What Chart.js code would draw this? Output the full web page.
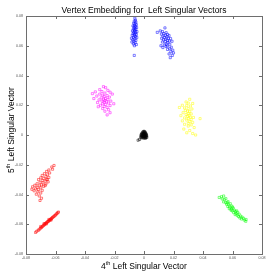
<!DOCTYPE html>
<html><head><meta charset="utf-8">
<script src="https://cdn.jsdelivr.net/npm/chart.js@4"></script>
<style>html,body{margin:0;padding:0;background:#fff;}canvas{display:block;}</style>
</head><body>
<canvas id="c" width="279" height="279"></canvas>
<script>
const chartTitle = "Vertex Embedding for  Left Singular Vectors";
const xTitle = ["4", "th", " Left Singular Vector"];
const yTitle = ["5", "th", " Left Singular Vector"];
const xTicks = [-0.08, -0.06, -0.04, -0.02, 0, 0.02, 0.04, 0.06, 0.08];
const yTicks = [-0.08, -0.06, -0.04, -0.02, 0, 0.02, 0.04, 0.06, 0.08];
const tickText = ["-0.08", "-0.06", "-0.04", "-0.02", "0", "0.02", "0.04", "0.06", "0.08"];

const blueA = [[-0.0062,0.0785],[-0.0058,0.0772],[-0.0066,0.0765],[-0.0055,0.0760],[-0.0070,0.0752],[-0.0060,0.0748],[-0.0052,0.0742],[-0.0065,0.0738],[-0.0075,0.0733],[-0.0058,0.0730],[-0.0068,0.0725],[-0.0050,0.0722],[-0.0062,0.0718],[-0.0072,0.0712],[-0.0056,0.0710],[-0.0064,0.0705],[-0.0078,0.0700],[-0.0060,0.0698],[-0.0048,0.0695],[-0.0069,0.0690],[-0.0057,0.0686],[-0.0074,0.0682],[-0.0063,0.0678],[-0.0052,0.0675],[-0.0080,0.0670],[-0.0066,0.0667],[-0.0058,0.0662],[-0.0071,0.0657],[-0.0049,0.0655],[-0.0085,0.0650],[-0.0062,0.0646],[-0.0076,0.0640],[-0.0055,0.0636],[-0.0068,0.0630],[-0.0082,0.0625],[-0.0060,0.0620],[-0.0072,0.0612],[-0.0052,0.0608],[-0.0065,0.0600],[-0.0066,0.0535]];
const blueB = [[0.0142,0.0720],[0.0090,0.0690],[0.0110,0.0700],[0.0125,0.0695],[0.0150,0.0688],[0.0135,0.0682],[0.0118,0.0678],[0.0160,0.0676],[0.0145,0.0670],[0.0128,0.0665],[0.0170,0.0668],[0.0155,0.0660],[0.0138,0.0655],[0.0120,0.0650],[0.0165,0.0650],[0.0148,0.0645],[0.0180,0.0648],[0.0132,0.0640],[0.0158,0.0636],[0.0172,0.0632],[0.0145,0.0628],[0.0125,0.0625],[0.0190,0.0630],[0.0162,0.0620],[0.0150,0.0612],[0.0175,0.0610],[0.0138,0.0605],[0.0115,0.0600],[0.0160,0.0598],[0.0185,0.0590],[0.0128,0.0588],[0.0175,0.0580],[0.0195,0.0570],[0.0182,0.0560],[0.0200,0.0552],[0.0170,0.0545],[0.0192,0.0535],[0.0178,0.0520],[0.0160,0.0575],[0.0150,0.0595]];
const magenta = [[-0.0275,0.0325],[-0.0260,0.0318],[-0.0300,0.0305],[-0.0245,0.0300],[-0.0330,0.0290],[-0.0285,0.0292],[-0.0230,0.0288],[-0.0265,0.0282],[-0.0350,0.0278],[-0.0300,0.0275],[-0.0215,0.0275],[-0.0280,0.0268],[-0.0250,0.0265],[-0.0320,0.0262],[-0.0270,0.0258],[-0.0235,0.0255],[-0.0290,0.0250],[-0.0260,0.0246],[-0.0340,0.0245],[-0.0275,0.0240],[-0.0245,0.0238],[-0.0305,0.0236],[-0.0265,0.0232],[-0.0285,0.0228],[-0.0225,0.0228],[-0.0255,0.0224],[-0.0270,0.0220],[-0.0315,0.0218],[-0.0240,0.0215],[-0.0280,0.0210],[-0.0260,0.0205],[-0.0295,0.0200],[-0.0230,0.0198],[-0.0270,0.0192],[-0.0250,0.0185],[-0.0280,0.0178],[-0.0240,0.0170],[-0.0265,0.0160],[-0.0230,0.0150],[-0.0250,0.0135],[-0.0310,0.0190],[-0.0205,0.0210]];
const black = [[0.0000,0.0025],[-0.0005,0.0022],[0.0005,0.0022],[-0.0008,0.0018],[0.0002,0.0018],[0.0009,0.0016],[-0.0012,0.0013],[-0.0003,0.0013],[0.0006,0.0012],[0.0012,0.0010],[-0.0015,0.0008],[-0.0006,0.0008],[0.0003,0.0007],[0.0010,0.0005],[0.0016,0.0004],[-0.0018,0.0003],[-0.0009,0.0003],[0.0000,0.0002],[0.0007,0.0000],[0.0014,-0.0001],[-0.0020,-0.0002],[-0.0012,-0.0003],[-0.0004,-0.0003],[0.0004,-0.0005],[0.0011,-0.0006],[0.0018,-0.0005],[-0.0017,-0.0008],[-0.0008,-0.0009],[0.0000,-0.0010],[0.0008,-0.0011],[0.0015,-0.0012],[-0.0022,-0.0013],[-0.0013,-0.0014],[-0.0004,-0.0015],[0.0005,-0.0016],[0.0012,-0.0017],[0.0019,-0.0016],[-0.0018,-0.0019],[-0.0008,-0.0020],[0.0002,-0.0021],[0.0010,-0.0022],[-0.0040,-0.0035],[-0.0030,-0.0030]];
const yellow = [[0.0310,0.0240],[0.0285,0.0222],[0.0300,0.0215],[0.0330,0.0212],[0.0260,0.0200],[0.0290,0.0198],[0.0315,0.0195],[0.0240,0.0185],[0.0275,0.0182],[0.0300,0.0178],[0.0325,0.0175],[0.0280,0.0165],[0.0295,0.0160],[0.0310,0.0158],[0.0265,0.0150],[0.0300,0.0145],[0.0320,0.0142],[0.0285,0.0138],[0.0305,0.0132],[0.0250,0.0130],[0.0295,0.0125],[0.0315,0.0120],[0.0335,0.0118],[0.0275,0.0115],[0.0300,0.0110],[0.0380,0.0110],[0.0320,0.0105],[0.0290,0.0100],[0.0260,0.0095],[0.0310,0.0090],[0.0330,0.0085],[0.0300,0.0078],[0.0275,0.0072],[0.0320,0.0068],[0.0300,0.0060],[0.0340,0.0050],[0.0270,0.0040],[0.0310,0.0030],[0.0330,0.0010],[0.0350,0.0000],[0.0290,0.0015]];
const green = [[0.0510,-0.0420],[0.0525,-0.0415],[0.0540,-0.0410],[0.0530,-0.0430],[0.0545,-0.0435],[0.0555,-0.0428],[0.0540,-0.0450],[0.0555,-0.0455],[0.0570,-0.0448],[0.0560,-0.0465],[0.0575,-0.0470],[0.0585,-0.0462],[0.0568,-0.0480],[0.0582,-0.0485],[0.0595,-0.0478],[0.0578,-0.0495],[0.0592,-0.0498],[0.0605,-0.0492],[0.0598,-0.0510],[0.0612,-0.0505],[0.0620,-0.0515],[0.0608,-0.0522],[0.0625,-0.0528],[0.0635,-0.0520],[0.0618,-0.0535],[0.0632,-0.0540],[0.0645,-0.0532],[0.0640,-0.0548],[0.0655,-0.0545],[0.0650,-0.0558],[0.0665,-0.0552],[0.0662,-0.0565],[0.0675,-0.0560],[0.0680,-0.0572],[0.0692,-0.0568],[0.0690,-0.0580],[0.0600,-0.0485],[0.0590,-0.0505],[0.0628,-0.0510],[0.0565,-0.0455]];
const redA = [[-0.0610,-0.0205],[-0.0625,-0.0215],[-0.0645,-0.0235],[-0.0660,-0.0245],[-0.0640,-0.0255],[-0.0675,-0.0260],[-0.0655,-0.0268],[-0.0690,-0.0272],[-0.0665,-0.0280],[-0.0645,-0.0285],[-0.0700,-0.0288],[-0.0680,-0.0292],[-0.0660,-0.0298],[-0.0715,-0.0300],[-0.0690,-0.0305],[-0.0670,-0.0310],[-0.0650,-0.0315],[-0.0705,-0.0318],[-0.0685,-0.0322],[-0.0725,-0.0328],[-0.0665,-0.0330],[-0.0695,-0.0335],[-0.0740,-0.0338],[-0.0710,-0.0342],[-0.0680,-0.0345],[-0.0755,-0.0348],[-0.0725,-0.0352],[-0.0700,-0.0355],[-0.0735,-0.0362],[-0.0715,-0.0368],[-0.0690,-0.0372],[-0.0745,-0.0375],[-0.0720,-0.0382],[-0.0700,-0.0390],[-0.0730,-0.0398],[-0.0710,-0.0410],[-0.0695,-0.0425],[-0.0670,-0.0340],[-0.0760,-0.0365],[-0.0705,-0.0440],[-0.0620,-0.0230],[-0.0655,-0.0300]];
const redB = [[-0.0735,-0.0655],[-0.0728,-0.0648],[-0.0718,-0.0640],[-0.0712,-0.0638],[-0.0705,-0.0630],[-0.0700,-0.0624],[-0.0695,-0.0622],[-0.0690,-0.0615],[-0.0685,-0.0612],[-0.0680,-0.0608],[-0.0676,-0.0602],[-0.0672,-0.0600],[-0.0668,-0.0595],[-0.0664,-0.0592],[-0.0660,-0.0590],[-0.0656,-0.0585],[-0.0652,-0.0582],[-0.0648,-0.0580],[-0.0644,-0.0575],[-0.0640,-0.0572],[-0.0636,-0.0570],[-0.0632,-0.0566],[-0.0628,-0.0562],[-0.0624,-0.0558],[-0.0620,-0.0555],[-0.0615,-0.0550],[-0.0610,-0.0547],[-0.0605,-0.0542],[-0.0600,-0.0538],[-0.0595,-0.0532],[-0.0590,-0.0528],[-0.0585,-0.0522],[-0.0580,-0.0518],[-0.0678,-0.0596],[-0.0662,-0.0598],[-0.0645,-0.0568],[-0.0630,-0.0572],[-0.0700,-0.0615]];

const groups = [
  {pts: blueA, color: "#0000ff"},
  {pts: blueB, color: "#0000ff"},
  {pts: magenta, color: "#ff00ff"},
  {pts: black, color: "#000000"},
  {pts: yellow, color: "#ffff00"},
  {pts: green, color: "#00ff00"},
  {pts: redA, color: "#ff0000"},
  {pts: redB, color: "#ff0000"}
];

const datasets = groups.map(g => ({
  data: g.pts.map(p => ({x: p[0], y: p[1]})),
  borderColor: g.color,
  backgroundColor: "rgba(0,0,0,0)",
  pointStyle: "rect",
  pointRadius: 1.5,
  borderWidth: 0.5
}));

const FONT = "'Liberation Sans', Arial, Helvetica, sans-serif";

const framePlugin = {
  id: "frame",
  afterDraw(chart) {
    const ctx = chart.ctx;
    const a = chart.chartArea;
    const xs = chart.scales.x, ys = chart.scales.y;
    ctx.save();
    ctx.strokeStyle = "#6e6e6e";
    ctx.lineWidth = 1;
    ctx.strokeRect(Math.round(a.left) + 0.5, Math.round(a.top) + 0.5,
                   Math.round(a.right - a.left), Math.round(a.bottom - a.top));
    const tl = 3;
    ctx.beginPath();
    xTicks.forEach(v => {
      const px = Math.round(xs.getPixelForValue(v)) + 0.5;
      ctx.moveTo(px, a.bottom); ctx.lineTo(px, a.bottom - tl);
      ctx.moveTo(px, a.top); ctx.lineTo(px, a.top + tl);
    });
    yTicks.forEach(v => {
      const py = Math.round(ys.getPixelForValue(v)) + 0.5;
      ctx.moveTo(a.left, py); ctx.lineTo(a.left + tl, py);
      ctx.moveTo(a.right, py); ctx.lineTo(a.right - tl, py);
    });
    ctx.stroke();
    ctx.fillStyle = "#555";
    ctx.font = "3.6px " + FONT;
    ctx.textAlign = "center"; ctx.textBaseline = "top";
    xTicks.forEach((v, i) => ctx.fillText(tickText[i], xs.getPixelForValue(v), a.bottom + 2));
    ctx.textAlign = "right"; ctx.textBaseline = "middle";
    yTicks.forEach((v, i) => ctx.fillText(tickText[i], a.left - 3, ys.getPixelForValue(v)));

    ctx.fillStyle = "#000";
    ctx.font = "8.5px " + FONT;
    ctx.textAlign = "center"; ctx.textBaseline = "alphabetic";
    ctx.fillText(chartTitle, (a.left + a.right) / 2, 12.5);

    function drawSup(parts, cx, baseY) {
      const big = "8.5px " + FONT, small = "5.5px " + FONT;
      ctx.font = big; const w0 = ctx.measureText(parts[0]).width;
      ctx.font = small; const w1 = ctx.measureText(parts[1]).width;
      ctx.font = big; const w2 = ctx.measureText(parts[2]).width;
      let x = cx - (w0 + w1 + w2) / 2;
      ctx.textAlign = "left";
      ctx.font = big; ctx.fillText(parts[0], x, baseY); x += w0;
      ctx.font = small; ctx.fillText(parts[1], x, baseY - 4); x += w1;
      ctx.font = big; ctx.fillText(parts[2], x, baseY);
    }
    drawSup(xTitle, (a.left + a.right) / 2, 269);
    ctx.save();
    ctx.translate(14, 130);
    ctx.rotate(-Math.PI / 2);
    drawSup(yTitle, 0, 0);
    ctx.restore();
    ctx.restore();
  }
};

new Chart(document.getElementById("c"), {
  type: "scatter",
  data: {datasets},
  options: {
    responsive: false,
    animation: false,
    layout: {padding: {left: 26, right: 17, top: 16, bottom: 25}},
    plugins: {legend: {display: false}, title: {display: false}, tooltip: {enabled: false}},
    scales: {
      x: {type: "linear", min: -0.08, max: 0.08, display: false},
      y: {type: "linear", min: -0.08, max: 0.08, display: false}
    }
  },
  plugins: [framePlugin]
});
</script>
</body></html>
